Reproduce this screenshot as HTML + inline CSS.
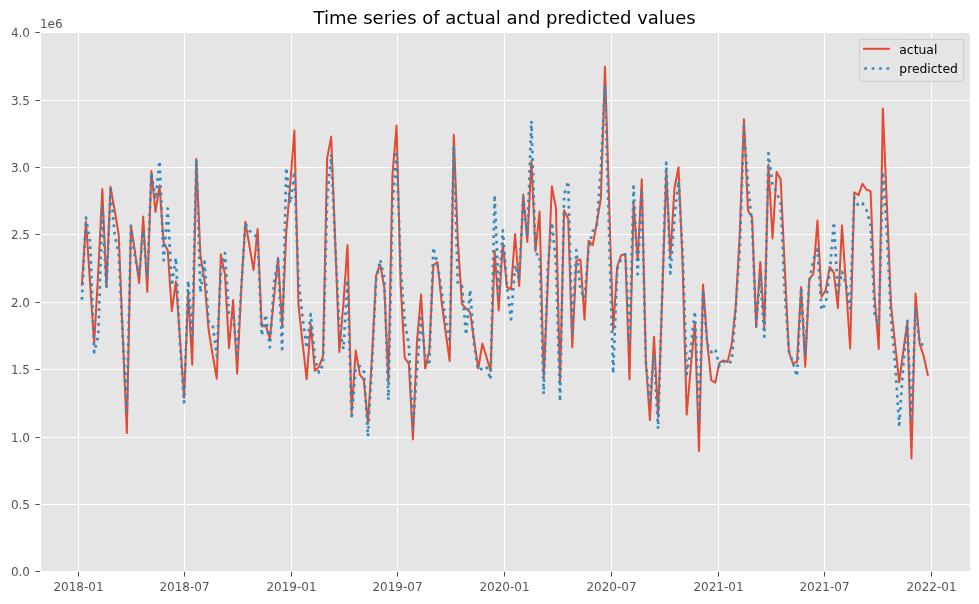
<!DOCTYPE html>
<html><head><meta charset="utf-8"><title>Time series of actual and predicted values</title>
<style>html,body{margin:0;padding:0;background:#fff}svg{display:block}text{font-family:"DejaVu Sans","Liberation Sans",sans-serif}</style></head><body>
<svg width="979" height="604" viewBox="0 0 979 604">
<rect width="979" height="604" fill="#fff"/>
<rect x="41" y="33" width="929.00" height="538.00" fill="#E5E5E5"/>
<g stroke="#fff" stroke-width="1" fill="none">
<line x1="78.50" y1="33" x2="78.50" y2="571"/>
<line x1="184.50" y1="33" x2="184.50" y2="571"/>
<line x1="291.50" y1="33" x2="291.50" y2="571"/>
<line x1="397.50" y1="33" x2="397.50" y2="571"/>
<line x1="504.50" y1="33" x2="504.50" y2="571"/>
<line x1="611.50" y1="33" x2="611.50" y2="571"/>
<line x1="718.50" y1="33" x2="718.50" y2="571"/>
<line x1="824.50" y1="33" x2="824.50" y2="571"/>
<line x1="931.50" y1="33" x2="931.50" y2="571"/>
<line x1="41" y1="504.50" x2="970" y2="504.50"/>
<line x1="41" y1="437.50" x2="970" y2="437.50"/>
<line x1="41" y1="369.50" x2="970" y2="369.50"/>
<line x1="41" y1="302.50" x2="970" y2="302.50"/>
<line x1="41" y1="234.50" x2="970" y2="234.50"/>
<line x1="41" y1="167.50" x2="970" y2="167.50"/>
<line x1="41" y1="100.50" x2="970" y2="100.50"/>
</g>
<g stroke="#555" stroke-width="1" fill="none">
<line x1="78.50" y1="571.8" x2="78.50" y2="576.6"/>
<line x1="184.50" y1="571.8" x2="184.50" y2="576.6"/>
<line x1="291.50" y1="571.8" x2="291.50" y2="576.6"/>
<line x1="397.50" y1="571.8" x2="397.50" y2="576.6"/>
<line x1="504.50" y1="571.8" x2="504.50" y2="576.6"/>
<line x1="611.50" y1="571.8" x2="611.50" y2="576.6"/>
<line x1="718.50" y1="571.8" x2="718.50" y2="576.6"/>
<line x1="824.50" y1="571.8" x2="824.50" y2="576.6"/>
<line x1="931.50" y1="571.8" x2="931.50" y2="576.6"/>
<line x1="35.3" y1="571.50" x2="39.8" y2="571.50"/>
<line x1="35.3" y1="504.50" x2="39.8" y2="504.50"/>
<line x1="35.3" y1="437.50" x2="39.8" y2="437.50"/>
<line x1="35.3" y1="369.50" x2="39.8" y2="369.50"/>
<line x1="35.3" y1="302.50" x2="39.8" y2="302.50"/>
<line x1="35.3" y1="234.50" x2="39.8" y2="234.50"/>
<line x1="35.3" y1="167.50" x2="39.8" y2="167.50"/>
<line x1="35.3" y1="100.50" x2="39.8" y2="100.50"/>
<line x1="35.3" y1="32.50" x2="39.8" y2="32.50"/>
</g>
<g fill="#555" font-size="12px">
<text x="78.50" y="590.8" text-anchor="middle">2018-01</text>
<text x="184.50" y="590.8" text-anchor="middle">2018-07</text>
<text x="291.50" y="590.8" text-anchor="middle">2019-01</text>
<text x="397.50" y="590.8" text-anchor="middle">2019-07</text>
<text x="504.50" y="590.8" text-anchor="middle">2020-01</text>
<text x="611.50" y="590.8" text-anchor="middle">2020-07</text>
<text x="718.50" y="590.8" text-anchor="middle">2021-01</text>
<text x="824.50" y="590.8" text-anchor="middle">2021-07</text>
<text x="931.50" y="590.8" text-anchor="middle">2022-01</text>
<text x="30" y="576.00" text-anchor="end">0.0</text>
<text x="30" y="509.00" text-anchor="end">0.5</text>
<text x="30" y="442.00" text-anchor="end">1.0</text>
<text x="30" y="374.00" text-anchor="end">1.5</text>
<text x="30" y="307.00" text-anchor="end">2.0</text>
<text x="30" y="239.00" text-anchor="end">2.5</text>
<text x="30" y="172.00" text-anchor="end">3.0</text>
<text x="30" y="105.00" text-anchor="end">3.5</text>
<text x="30" y="37.00" text-anchor="end">4.0</text>
<text x="39.9" y="27.6">1e6</text>
</g>
<text x="504.6" y="23.9" text-anchor="middle" font-size="18px" fill="#000">Time series of actual and predicted values</text>
<clipPath id="c"><rect x="41" y="33" width="929.00" height="538.00"/></clipPath>
<g clip-path="url(#c)" fill="none" stroke-linejoin="round">
<polyline stroke="#E24A33" stroke-width="2" stroke-linecap="square" points="81.90,284.8 85.99,221.4 90.07,283.0 94.16,343.4 98.25,272.0 102.33,189.1 106.42,287.0 110.51,186.7 114.59,210.0 118.68,234.5 122.77,336.0 126.85,433.0 130.94,225.6 135.02,252.0 139.11,282.9 143.20,216.5 147.28,291.7 151.37,171.0 155.46,212.0 159.54,185.5 163.63,242.8 167.72,250.2 171.80,311.1 175.89,281.6 179.98,338.0 184.06,398.0 188.15,292.4 192.24,364.7 196.32,159.0 200.41,255.0 204.50,280.6 208.58,329.5 212.67,355.0 216.75,378.7 220.84,254.3 224.93,274.0 229.01,348.1 233.10,300.1 237.19,373.4 241.27,289.0 245.36,221.7 249.45,246.0 253.53,270.2 257.62,229.1 261.71,326.4 265.79,325.6 269.88,338.7 273.97,298.0 278.05,258.1 282.14,326.2 286.23,233.0 290.31,182.8 294.40,130.5 298.48,304.9 302.57,343.0 306.66,379.2 310.74,324.1 314.83,370.8 318.92,367.0 323.00,356.2 327.09,158.8 331.18,136.7 335.26,243.0 339.35,351.9 343.44,303.0 347.52,244.9 351.61,412.9 355.70,350.6 359.78,374.5 363.87,380.2 367.96,423.6 372.04,356.0 376.13,275.3 380.21,264.7 384.30,287.7 388.39,382.0 392.47,174.6 396.56,125.6 400.65,285.0 404.73,357.9 408.82,363.7 412.91,439.4 416.99,341.3 421.08,294.4 425.17,368.5 429.25,351.3 433.34,265.4 437.43,262.1 441.51,301.0 445.60,332.0 449.69,361.0 453.77,134.7 457.86,241.0 461.94,304.1 466.03,308.5 470.12,312.4 474.20,341.0 478.29,368.5 482.38,343.6 486.46,357.0 490.55,371.0 494.64,250.7 498.72,310.5 502.81,243.2 506.90,286.9 510.98,289.4 515.07,234.1 519.16,285.9 523.24,194.6 527.33,242.0 531.41,160.9 535.50,251.0 539.59,211.4 543.67,378.7 547.76,284.0 551.85,186.3 555.93,208.0 560.02,383.6 564.11,210.3 568.19,218.7 572.28,347.2 576.37,260.7 580.45,259.5 584.54,319.8 588.63,240.7 592.71,245.2 596.80,222.8 600.89,198.0 604.97,66.8 609.06,200.0 613.14,330.0 617.23,266.5 621.32,254.9 625.40,254.1 629.49,379.5 633.58,203.0 637.66,260.5 641.75,179.2 645.84,361.5 649.92,420.1 654.01,336.8 658.10,417.0 662.18,297.0 666.27,172.5 670.36,257.5 674.44,188.0 678.53,167.2 682.62,265.0 686.70,414.6 690.79,367.0 694.88,322.5 698.96,451.0 703.05,284.6 707.13,341.3 711.22,380.2 715.31,382.6 719.39,362.8 723.48,360.4 727.57,362.0 731.65,344.6 735.74,306.6 739.83,232.0 743.91,119.3 748.00,210.8 752.09,217.4 756.17,327.1 760.26,261.9 764.35,327.0 768.43,164.8 772.52,238.4 776.61,171.9 780.69,179.5 784.78,268.0 788.86,352.0 792.95,363.7 797.04,362.0 801.12,287.1 805.21,366.8 809.30,279.5 813.38,273.7 817.47,220.5 821.56,296.9 825.64,290.2 829.73,266.9 833.82,272.8 837.90,308.0 841.99,225.5 846.08,286.5 850.16,348.6 854.25,192.3 858.34,195.3 862.42,183.8 866.51,189.8 870.59,191.1 874.68,298.0 878.77,348.9 882.85,108.5 886.94,206.0 891.03,305.0 895.11,344.0 899.20,382.4 903.29,351.0 907.37,322.5 911.46,458.4 915.55,293.5 919.63,343.8 923.72,356.2 927.81,374.8"/>
<polyline stroke="#348ABD" stroke-width="2.7" stroke-dasharray="2.7 4.7" points="81.90,299.7 85.99,217.7 90.07,242.0 94.16,352.3 98.25,336.0 102.33,206.9 106.42,287.6 110.51,189.5 114.59,233.7 118.68,254.4 122.77,336.0 126.85,410.7 130.94,225.9 135.02,257.7 139.11,275.1 143.20,231.7 147.28,276.0 151.37,172.7 155.46,199.3 159.54,160.9 163.63,260.3 167.72,208.5 171.80,285.9 175.89,257.7 179.98,344.0 184.06,402.3 188.15,280.7 192.24,336.3 196.32,159.7 200.41,292.5 204.50,261.7 208.58,321.2 212.67,324.5 216.75,356.0 220.84,271.5 224.93,253.0 229.01,314.6 233.10,317.3 237.19,354.0 241.27,288.0 245.36,222.9 249.45,231.0 253.53,233.0 257.62,239.0 261.71,335.8 265.79,314.5 269.88,347.4 273.97,283.0 278.05,260.1 282.14,349.1 286.23,167.7 290.31,203.3 294.40,171.7 298.48,280.0 302.57,318.0 306.66,348.3 310.74,314.2 314.83,358.0 318.92,372.6 323.00,364.5 327.09,199.4 331.18,154.4 335.26,245.0 339.35,327.3 343.44,349.1 347.52,279.7 351.61,419.1 355.70,367.5 359.78,366.2 363.87,370.3 367.96,436.5 372.04,362.0 376.13,279.5 380.21,259.7 384.30,277.8 388.39,400.1 392.47,207.0 396.56,151.1 400.65,268.0 404.73,322.3 408.82,344.6 412.91,428.3 416.99,370.0 421.08,318.2 425.17,355.4 429.25,365.6 433.34,247.4 437.43,263.7 441.51,290.0 445.60,320.3 449.69,342.5 453.77,147.8 457.86,284.4 461.94,286.0 466.03,335.0 470.12,289.9 474.20,346.3 478.29,370.3 482.38,368.6 486.46,366.5 490.55,379.7 494.64,195.0 498.72,294.8 502.81,230.3 506.90,285.3 510.98,319.3 515.07,265.1 519.16,278.1 523.24,197.4 527.33,235.9 531.41,121.0 535.50,254.0 539.59,254.6 543.67,394.0 547.76,268.0 551.85,222.5 555.93,262.0 560.02,401.5 564.11,194.7 568.19,181.2 572.28,332.3 576.37,250.0 580.45,289.7 584.54,298.3 588.63,248.4 592.71,231.1 596.80,226.2 600.89,168.0 604.97,85.9 609.06,232.0 613.14,373.7 617.23,269.0 621.32,258.2 625.40,254.6 629.49,342.7 633.58,186.7 637.66,274.3 641.75,189.2 645.84,363.0 649.92,400.7 654.01,355.4 658.10,428.8 662.18,294.0 666.27,162.7 670.36,273.4 674.44,218.0 678.53,180.9 682.62,252.0 686.70,374.3 690.79,348.0 694.88,311.2 698.96,422.5 703.05,289.9 707.13,343.8 711.22,352.1 715.31,348.8 719.39,366.2 723.48,361.5 727.57,363.7 731.65,361.2 735.74,308.2 739.83,248.0 743.91,126.3 748.00,184.5 752.09,224.8 756.17,325.1 760.26,275.0 764.35,336.7 768.43,153.1 772.52,184.5 776.61,192.0 780.69,203.5 784.78,293.0 788.86,350.4 792.95,362.8 797.04,376.4 801.12,287.4 805.21,354.9 809.30,281.1 813.38,259.6 817.47,249.4 821.56,310.2 825.64,303.2 829.73,272.0 833.82,222.1 837.90,292.2 841.99,271.7 846.08,284.4 850.16,308.5 854.25,197.4 858.34,205.8 862.42,203.3 866.51,210.0 870.59,224.8 874.68,314.0 878.77,325.9 882.85,171.8 886.94,233.0 891.03,319.0 895.11,364.0 899.20,424.6 903.29,365.0 907.37,320.8 911.46,420.8 915.55,307.6 919.63,343.8 923.72,345.0"/>
</g>
<rect x="859.4" y="39.4" width="104.2" height="42.1" rx="2" ry="2" fill="#E5E5E5" fill-opacity="0.8" stroke="#cccccc" stroke-width="1"/>
<line x1="863" y1="48.8" x2="889.9" y2="48.8" stroke="#E24A33" stroke-width="2"/>
<line x1="864.3" y1="68.5" x2="889.9" y2="68.5" stroke="#348ABD" stroke-width="2.7" stroke-dasharray="2.7 4.7"/>
<g fill="#000" font-size="12.35px"><text x="899.3" y="53.8">actual</text><text x="899.3" y="72.9">predicted</text></g>
</svg></body></html>
